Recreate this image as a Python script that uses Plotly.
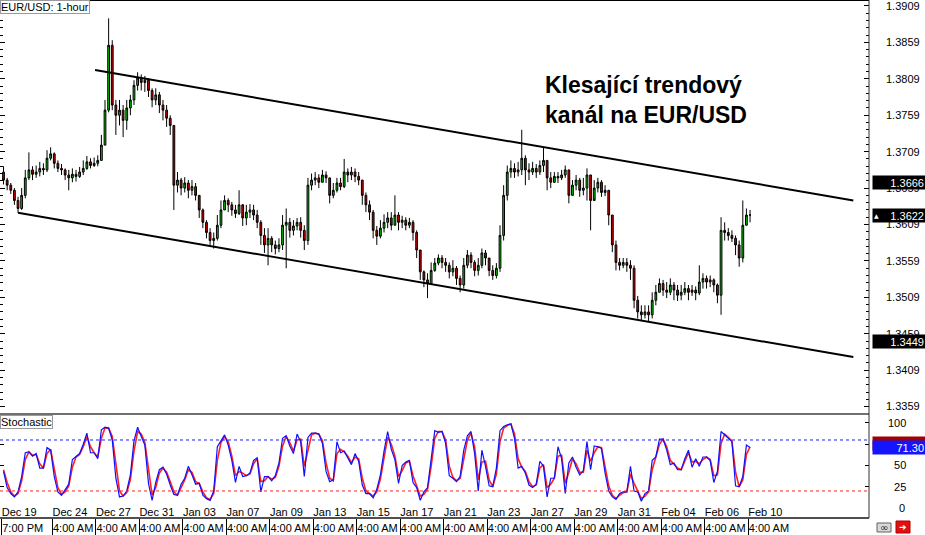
import plotly.graph_objects as go

# ---------------- data ----------------
symbol_label = "EUR/USD: 1-hour"
bars_per_candle = 4          # each drawn candle groups 4 hourly bars
first_open = 1.3681

close = [1.3670,1.3663,1.3656,1.3642,1.3631,1.3649,1.3673,1.3684,1.3678,1.3681,
         1.3686,1.3684,1.3700,1.3706,1.3693,1.3686,1.3684,1.3677,1.3673,1.3678,
         1.3675,1.3681,1.3686,1.3695,1.3690,1.3693,1.3697,1.3718,1.3766,1.3855,
         1.3773,1.3759,1.3766,1.3752,1.3769,1.3780,1.3800,1.3810,1.3804,1.3807,
         1.3793,1.3780,1.3787,1.3773,1.3766,1.3755,1.3745,1.3663,1.3670,1.3659,
         1.3666,1.3656,1.3661,1.3649,1.3629,1.3612,1.3598,1.3587,1.3590,1.3608,
         1.3629,1.3642,1.3636,1.3629,1.3624,1.3636,1.3618,1.3626,1.3629,1.3622,
         1.3612,1.3594,1.3581,1.3590,1.3581,1.3576,1.3581,1.3608,1.3612,1.3601,
         1.3607,1.3612,1.3601,1.3587,1.3663,1.3670,1.3673,1.3667,1.3677,1.3673,
         1.3649,1.3656,1.3666,1.3661,1.3681,1.3677,1.3681,1.3675,1.3670,1.3649,
         1.3636,1.3626,1.3601,1.3593,1.3604,1.3612,1.3618,1.3608,1.3622,1.3612,
         1.3615,1.3608,1.3612,1.3598,1.3574,1.3544,1.3533,1.3528,1.3546,1.3556,
         1.3563,1.3557,1.3553,1.3544,1.3549,1.3535,1.3526,1.3553,1.3567,1.3557,
         1.3546,1.3553,1.3570,1.3563,1.3546,1.3539,1.3549,1.3594,1.3649,1.3681,
         1.3686,1.3681,1.3684,1.3700,1.3684,1.3681,1.3686,1.3681,1.3690,1.3697,
         1.3673,1.3667,1.3675,1.3673,1.3677,1.3684,1.3649,1.3663,1.3670,1.3656,
         1.3659,1.3677,1.3642,1.3659,1.3667,1.3653,1.3656,1.3622,1.3581,1.3557,
         1.3553,1.3557,1.3553,1.3549,1.3505,1.3489,1.3485,1.3489,1.3485,1.3505,
         1.3516,1.3528,1.3519,1.3516,1.3526,1.3519,1.3512,1.3516,1.3521,1.3516,
         1.3519,1.3515,1.3530,1.3535,1.3530,1.3533,1.3526,1.3512,1.3601,1.3598,
         1.3594,1.3590,1.3581,1.3563,1.3608,1.3622,1.3622]

high = [1.3689,1.3673,1.3666,1.3659,1.3647,1.3659,1.3684,1.3708,1.3689,1.3690,
        1.3695,1.3693,1.3711,1.3715,1.3708,1.3697,1.3692,1.3686,1.3684,1.3686,
        1.3684,1.3688,1.3697,1.3703,1.3700,1.3701,1.3704,1.3732,1.3780,1.3892,
        1.3862,1.3780,1.3780,1.3773,1.3780,1.3787,1.3807,1.3818,1.3815,1.3813,
        1.3810,1.3796,1.3796,1.3791,1.3780,1.3773,1.3759,1.3745,1.3681,1.3673,
        1.3674,1.3670,1.3670,1.3666,1.3649,1.3631,1.3615,1.3604,1.3598,1.3622,
        1.3642,1.3649,1.3645,1.3640,1.3636,1.3656,1.3637,1.3636,1.3637,1.3636,
        1.3629,1.3615,1.3604,1.3604,1.3593,1.3587,1.3590,1.3622,1.3631,1.3618,
        1.3615,1.3618,1.3619,1.3608,1.3673,1.3679,1.3681,1.3678,1.3684,1.3682,
        1.3673,1.3666,1.3673,1.3673,1.3699,1.3686,1.3688,1.3686,1.3681,1.3670,
        1.3653,1.3642,1.3629,1.3607,1.3615,1.3623,1.3626,1.3626,1.3649,1.3626,
        1.3621,1.3619,1.3618,1.3615,1.3601,1.3574,1.3546,1.3542,1.3557,1.3563,
        1.3568,1.3567,1.3563,1.3557,1.3560,1.3552,1.3539,1.3563,1.3574,1.3571,
        1.3560,1.3563,1.3576,1.3574,1.3563,1.3553,1.3556,1.3608,1.3663,1.3690,
        1.3697,1.3693,1.3695,1.3739,1.3704,1.3693,1.3695,1.3692,1.3697,1.3714,
        1.3697,1.3681,1.3681,1.3681,1.3684,1.3690,1.3684,1.3670,1.3677,1.3673,
        1.3673,1.3686,1.3677,1.3670,1.3673,1.3670,1.3663,1.3656,1.3622,1.3587,
        1.3563,1.3563,1.3563,1.3560,1.3553,1.3511,1.3498,1.3498,1.3498,1.3516,
        1.3526,1.3535,1.3533,1.3530,1.3535,1.3530,1.3526,1.3526,1.3530,1.3526,
        1.3526,1.3524,1.3553,1.3542,1.3539,1.3539,1.3535,1.3528,1.3619,1.3612,
        1.3604,1.3601,1.3594,1.3587,1.3642,1.3631,1.3629]

low = [1.3664,1.3656,1.3651,1.3636,1.3625,1.3629,1.3645,1.3670,1.3670,1.3673,
       1.3675,1.3677,1.3681,1.3697,1.3686,1.3681,1.3677,1.3670,1.3656,1.3667,
       1.3668,1.3673,1.3677,1.3684,1.3686,1.3688,1.3689,1.3697,1.3718,1.3763,
       1.3766,1.3732,1.3745,1.3729,1.3739,1.3759,1.3773,1.3793,1.3793,1.3791,
       1.3784,1.3770,1.3773,1.3762,1.3752,1.3743,1.3732,1.3629,1.3653,1.3649,
       1.3653,1.3645,1.3649,1.3642,1.3618,1.3604,1.3590,1.3581,1.3576,1.3587,
       1.3604,1.3629,1.3626,1.3621,1.3618,1.3622,1.3607,1.3608,1.3618,1.3615,
       1.3604,1.3581,1.3570,1.3553,1.3571,1.3568,1.3571,1.3574,1.3549,1.3591,
       1.3594,1.3601,1.3591,1.3574,1.3581,1.3656,1.3663,1.3659,1.3667,1.3666,
       1.3638,1.3645,1.3653,1.3656,1.3659,1.3667,1.3670,1.3667,1.3663,1.3636,
       1.3626,1.3615,1.3590,1.3581,1.3590,1.3598,1.3604,1.3601,1.3608,1.3601,
       1.3604,1.3601,1.3604,1.3587,1.3563,1.3533,1.3523,1.3508,1.3526,1.3544,
       1.3553,1.3549,1.3544,1.3535,1.3538,1.3526,1.3516,1.3521,1.3549,1.3549,
       1.3538,1.3539,1.3549,1.3553,1.3538,1.3533,1.3535,1.3544,1.3587,1.3642,
       1.3673,1.3673,1.3675,1.3677,1.3663,1.3670,1.3677,1.3673,1.3677,1.3681,
       1.3656,1.3659,1.3666,1.3666,1.3670,1.3673,1.3638,1.3649,1.3656,1.3647,
       1.3649,1.3642,1.3601,1.3645,1.3653,1.3647,1.3648,1.3608,1.3571,1.3546,
       1.3546,1.3549,1.3544,1.3533,1.3494,1.3480,1.3478,1.3480,1.3475,1.3480,
       1.3498,1.3516,1.3511,1.3508,1.3512,1.3505,1.3504,1.3505,1.3512,1.3505,
       1.3511,1.3505,1.3512,1.3521,1.3521,1.3523,1.3516,1.3501,1.3485,1.3587,
       1.3587,1.3585,1.3567,1.3551,1.3557,1.3608,1.3612]

stoch_k = [43,24,17,13,19,37,65,66,61,64, 47,47,71,68,37,19,15,21,28,57,
           61,64,75,88,65,65,58,92,95,94, 80,35,13,14,20,39,79,95,84,74,
           29,9,30,45,48,40,27,16,15,28, 35,49,39,28,29,15,11,9,20,72,
           79,86,74,56,30,49,37,38,41,56, 59,19,37,37,32,38,53,82,85,73,
           64,87,78,37,83,88,88,87,76,43, 31,33,78,65,67,58,51,64,55,27,
           17,17,12,22,39,67,90,69,57,29, 50,54,56,30,24,9,19,24,60,91,
           89,90,76,38,35,31,37,68,85,90, 64,20,68,49,26,25,47,91,96,98,
           99,82,47,49,41,27,24,28,55,49, 13,35,35,72,58,17,53,60,48,39,
           44,78,45,73,72,70,41,20,13,10, 17,19,19,49,20,19,8,17,20,56,
           60,81,81,68,51,53,45,45,58,68, 48,58,49,60,60,56,30,43,90,86,
           81,78,26,25,37,74,71.3]

stoch_d = [45,30,19,14,17,32,57,66,62,63, 52,47,64,69,46,24,16,19,26,48,
           60,63,72,84,72,65,60,82,94,94, 84,49,20,14,18,33,67,90,87,77,
           43,15,24,41,47,42,31,19,15,24, 33,45,42,31,29,19,12,10,17,56,
           77,84,78,61,38,43,41,38,40,52, 58,31,32,37,34,36,49,73,84,77,
           67,80,81,49,69,86,88,87,79,53, 35,32,64,69,66,61,53,60,58,35,
           20,17,14,19,34,59,83,75,61,37, 44,53,55,38,26,14,16,22,49,82,
           90,90,80,49,36,32,35,59,80,88, 72,33,54,55,33,25,40,78,94,97,
           99,87,58,48,43,31,25,27,47,51, 24,28,35,61,62,29,42,58,52,42,
           42,68,55,65,72,71,50,26,15,11, 15,18,19,40,29,19,11,14,19,45,
           59,75,81,72,56,52,47,45,54,65, 54,55,52,57,60,57,38,39,76,87,
           83,79,42,25,33,63,72]

# trend lines (bar index, price)
trend_bars = [18, 940]
trend_lower = [1.3625, 1.3427]
trend_bars_up = [103, 940]
trend_upper = [1.3821, 1.3642]

# time axis labels
tick_bars = [0, 56, 104, 152, 200, 248, 296, 344, 392, 440, 488, 536, 584, 632, 680, 728, 776, 824]
date_labels = ["Dec 19", "Dec 24", "Dec 27", "Dec 31", "Jan 03", "Jan 07", "Jan 09", "Jan 13", "Jan 15",
               "Jan 17", "Jan 21", "Jan 23", "Jan 27", "Jan 29", "Jan 31", "Feb 04", "Feb 06", "Feb 10"]
time_labels = ["7:00 PM"] + ["4:00 AM"] * 17

price_ticks_start = 1.3359
price_ticks_step = 0.005
stoch_ticks = [0, 25, 50, 75, 100]
stoch_levels = [80, 20]

line_prices = [1.3666, 1.3449]   # labels of the two channel lines on the price scale
bid_price = 1.3622
stoch_value = 71.30

annotation_lines = ["Klesající trendový", "kanál na EUR/USD"]

# ---------------- figure ----------------
FONT = "Liberation Sans, Arial, sans-serif"
x_candle = [bars_per_candle * k + 2 for k in range(len(close))]
opens = [first_open] + close[:-1]

X_RANGE = [-1.9, 957.3]
Y_RANGE = [1.33489, 1.39172]
S_RANGE = [-11.8, 110.6]
SPLIT = 0.2008

fig = go.Figure()

fig.add_trace(go.Candlestick(
    x=x_candle, open=opens, high=high, low=low, close=close,
    increasing=dict(line=dict(color="black", width=1), fillcolor="#00c800"),
    decreasing=dict(line=dict(color="black", width=1), fillcolor="#d00000"),
    whiskerwidth=0, xaxis="x", yaxis="y", showlegend=False, hoverinfo="skip"))

fig.add_trace(go.Scatter(x=trend_bars_up, y=trend_upper, mode="lines",
                         line=dict(color="black", width=2), xaxis="x", yaxis="y",
                         showlegend=False, hoverinfo="skip"))
fig.add_trace(go.Scatter(x=trend_bars, y=trend_lower, mode="lines",
                         line=dict(color="black", width=2), xaxis="x", yaxis="y",
                         showlegend=False, hoverinfo="skip"))

fig.add_trace(go.Scatter(x=x_candle, y=stoch_d, mode="lines",
                         line=dict(color="#ff2020", width=1.6), xaxis="x2", yaxis="y2",
                         showlegend=False, hoverinfo="skip"))
fig.add_trace(go.Scatter(x=x_candle, y=stoch_k, mode="lines",
                         line=dict(color="#1010ff", width=1.2), xaxis="x2", yaxis="y2",
                         showlegend=False, hoverinfo="skip"))

shapes = []
for lvl, col in zip(stoch_levels, ["#2020ff", "#ff2020"]):
    shapes.append(dict(type="line", xref="x2", yref="y2", x0=X_RANGE[0], x1=X_RANGE[1],
                       y0=lvl, y1=lvl, line=dict(color=col, width=1, dash="3px,3px")))
# frame
shapes += [
    dict(type="line", xref="paper", yref="paper", x0=0, x1=1, y0=1, y1=1,
         line=dict(color="black", width=2)),
    dict(type="line", xref="paper", yref="paper", x0=0, x1=1, y0=SPLIT, y1=SPLIT,
         line=dict(color="#707070", width=2)),
    dict(type="line", xref="paper", yref="paper", x0=0, x1=1, y0=0, y1=0,
         line=dict(color="#505050", width=2)),
    dict(type="line", xref="paper", yref="paper", x0=1, x1=1, y0=0, y1=1,
         line=dict(color="#303030", width=1)),
]
# bottom-right toolbar icons
W, H = 869.0, 518.0
def px_x(v): return v / W
def px_y(v): return (H - v) / H
shapes += [
    dict(type="rect", xref="paper", yref="paper", x0=px_x(877), x1=px_x(891), y0=px_y(532), y1=px_y(523),
         line=dict(color="#606060", width=1), fillcolor="#d8d8d8"),
    dict(type="rect", xref="paper", yref="paper", x0=px_x(896), x1=px_x(910), y0=px_y(533), y1=px_y(521),
         line=dict(color="#b00000", width=1), fillcolor="#e01010"),
]

annotations = []
annotations.append(dict(text=symbol_label, xref="paper", yref="paper", x=0, y=1, xanchor="left",
                        yanchor="top", showarrow=False, bgcolor="white", bordercolor="#9a9a9a",
                        borderwidth=1, borderpad=0, font=dict(family=FONT, size=11, color="black")))
annotations.append(dict(text="Stochastic", xref="paper", yref="paper", x=0, y=SPLIT, yshift=-1,
                        xanchor="left", yanchor="top", showarrow=False, bgcolor="white",
                        bordercolor="#9a9a9a", borderwidth=1, borderpad=0,
                        font=dict(family=FONT, size=11, color="black")))
for i, txt in enumerate(annotation_lines):
    annotations.append(dict(text=txt, xref="paper", yref="paper", x=px_x(543),
                            y=px_y(70 + 30 * i), xanchor="left", yanchor="top", showarrow=False,
                            font=dict(family=FONT, size=23, color="black", weight="bold")))
for p in line_prices:
    annotations.append(dict(text=f"{p:.4f}", xref="paper", yref="y", x=1, y=p, xshift=3,
                            xanchor="left", yanchor="middle", showarrow=False, bgcolor="black",
                            width=50, height=11, align="right", borderpad=1,
                            font=dict(family=FONT, size=11, color="white")))
annotations.append(dict(text=f"{bid_price:.4f}",
                        xref="paper", yref="y", x=1, y=bid_price, xshift=3,
                        xanchor="left", yanchor="middle", showarrow=False, bgcolor="black",
                        width=50, height=11, align="right", borderpad=1,
                        font=dict(family=FONT, size=11, color="white")))
annotations.append(dict(text="▲", xref="paper", yref="y", x=1, y=bid_price, xshift=3,
                        xanchor="left", yanchor="middle", showarrow=False,
                        font=dict(family="DejaVu Sans", size=6, color="white")))
annotations.append(dict(text=" ", xref="paper", yref="y2", x=1, y=stoch_d[-1], yshift=3, xshift=3,
                        xanchor="left", yanchor="middle", showarrow=False, bgcolor="#a00000",
                        width=50, height=11, borderpad=1, font=dict(family=FONT, size=11)))
annotations.append(dict(text=f"{stoch_value:.2f}", xref="paper", yref="y2", x=1, y=stoch_value, xshift=3,
                        xanchor="left", yanchor="middle", showarrow=False, bgcolor="#1414ff",
                        width=50, height=11, align="right", borderpad=1,
                        font=dict(family=FONT, size=11, color="white")))
# the bottom scale value of the stochastic window (plotly hides this tick label next to the
# inside date labels, so it is placed on the same scale as an annotation)
annotations.append(dict(text=str(stoch_ticks[0]), xref="paper", yref="y2", x=1, y=stoch_ticks[0],
                        xshift=38, xanchor="right", yanchor="middle", showarrow=False,
                        font=dict(family=FONT, size=11, color="black")))
annotations.append(dict(text="➜", xref="paper", yref="paper", x=px_x(903), y=px_y(527),
                        xanchor="center", yanchor="middle", showarrow=False,
                        font=dict(family="DejaVu Sans", size=9, color="white")))
annotations.append(dict(text="∞", xref="paper", yref="paper", x=px_x(884), y=px_y(527.5),
                        xanchor="center", yanchor="middle", showarrow=False,
                        font=dict(family="DejaVu Sans", size=10, color="#202020")))

fs = "\u2007"
stoch_text = [("" if v == stoch_ticks[0] else fs * (3 - len(str(v))) + str(v)) for v in stoch_ticks]

fig.update_layout(
    width=925, height=535,
    margin=dict(l=0, r=56, t=0, b=17, autoexpand=False),
    paper_bgcolor="white", plot_bgcolor="white",
    font=dict(family=FONT, size=11, color="black"),
    showlegend=False,
    xaxis=dict(domain=[0, 1], anchor="y", range=X_RANGE, showticklabels=False, ticks="",
               showgrid=False, zeroline=False, showline=False, automargin=False,
               rangeslider=dict(visible=False)),
    yaxis=dict(domain=[SPLIT, 1], anchor="x", side="right", range=Y_RANGE,
               tickmode="linear", tick0=price_ticks_start, dtick=price_ticks_step,
               tickformat=".4f", ticks="inside", ticklen=5, tickcolor="black", mirror="ticks",
               minor=dict(ticks="inside", ticklen=3, dtick=0.001, tick0=price_ticks_start,
                          tickcolor="black", showgrid=False),
               showgrid=False, zeroline=False, showline=False, ticklabelstandoff=16,
               ticklabeloverflow="allow",
               automargin=False, tickfont=dict(family=FONT, size=11, color="black")),
    # time row below the panel (anchor axis of the stochastic y axis)
    xaxis2=dict(domain=[0, 1], anchor="y2", range=X_RANGE, matches="x",
                tickmode="array", tickvals=tick_bars, ticktext=time_labels, tickangle=0,
                ticklabelposition="outside right", ticks="outside", ticklen=17, tickcolor="black",
                tickwidth=1, showgrid=False, zeroline=False, showline=False, automargin=False,
                ticklabeloverflow="allow",
                tickfont=dict(family=FONT, size=11, color="black")),
    # date row inside the panel
    xaxis3=dict(overlaying="x2", anchor="y2", side="bottom", range=X_RANGE,
                tickmode="array", tickvals=tick_bars, ticktext=date_labels, tickangle=0,
                ticklabelposition="inside right", ticks="", ticklabelstandoff=-6,
                showgrid=False, zeroline=False, showline=False, automargin=False,
                tickfont=dict(family=FONT, size=11, color="black")),
    yaxis2=dict(domain=[0, SPLIT], anchor="x2", side="right", range=S_RANGE,
                tickmode="array", tickvals=stoch_ticks, ticktext=stoch_text,
                ticks="inside", ticklen=4, tickcolor="black", mirror="ticks",
                showgrid=False, zeroline=False, showline=False, ticklabelstandoff=18,
                ticklabeloverflow="allow",
                automargin=False, tickfont=dict(family=FONT, size=11, color="black")),
    shapes=shapes, annotations=annotations,
)

fig.add_trace(go.Scatter(x=[], y=[], xaxis="x3", yaxis="y2", showlegend=False, hoverinfo="skip"))

fig.write_html("out.html", config={"displayModeBar": False},
               post_script="document.body.style.margin='0px';")
